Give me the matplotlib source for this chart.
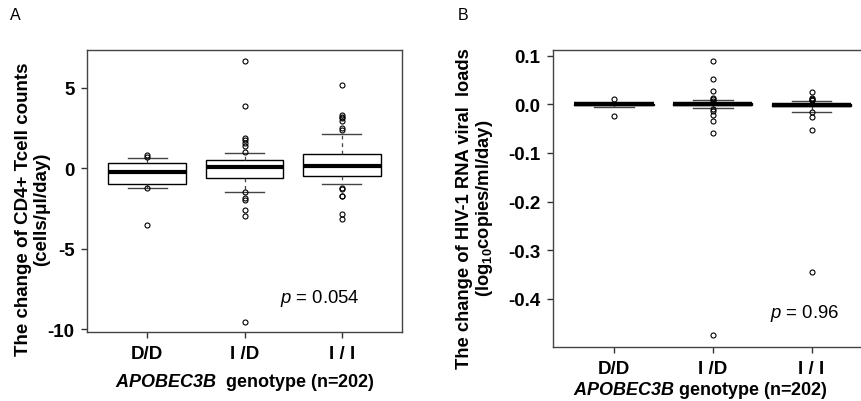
import numpy as np
import matplotlib
matplotlib.use("Agg")
import matplotlib.pyplot as plt

plt.rcParams['font.family'] = ['Liberation Sans', 'DejaVu Sans']
plt.rcParams['mathtext.fontset'] = 'custom'
plt.rcParams['mathtext.rm'] = 'Liberation Sans'
plt.rcParams['mathtext.it'] = 'Liberation Sans:italic'
plt.rcParams['mathtext.bf'] = 'Liberation Sans:bold'
plt.rcParams['mathtext.bfit'] = 'Liberation Sans:italic:bold'

genotypes = ["D/D", "I /D", "I / I"]

# panel A: change of CD4+ T cell counts
cd4_med = [-0.25, 0.06, 0.16]
cd4_q1 = [-0.97, -0.62, -0.50]
cd4_q3 = [0.31, 0.50, 0.91]
cd4_lo = [-1.20, -1.47, -0.98]
cd4_hi = [0.64, 0.95, 2.15]
cd4_out = [[0.85, 0.72, -1.2, -3.5],
           [6.68, 3.89, 1.9, 1.75, 1.55, 1.4, 1.03, -1.5, -1.85, -1.95, -2.6, -2.95, -9.53],
           [5.15, 3.3, 3.2, 3.1, 2.95, 2.5, 2.4, -1.2, -1.3, -1.7, -1.75, -2.84, -3.15]]

# panel B: change of HIV-1 RNA viral loads
vl_med = [0.0, 0.0, -0.001]
vl_q1 = [-0.001, -0.002, -0.003]
vl_q3 = [0.001, 0.002, 0.001]
vl_lo = [-0.006, -0.007, -0.015]
vl_hi = [0.001, 0.008, 0.006]
vl_out = [[0.010, -0.025],
          [0.088, 0.051, 0.027, 0.013, 0.010, 0.006, -0.010, -0.014, -0.022, -0.035, -0.058, -0.475],
          [0.025, 0.012, 0.010, 0.009, 0.008, -0.016, -0.026, -0.053, -0.345]]


def make_stats(med, q1, q3, lo, hi, out):
    st = []
    for i in range(len(med)):
        st.append(dict(med=med[i], q1=q1[i], q3=q3[i], whislo=lo[i], whishi=hi[i],
                       fliers=np.array(out[i])))
    return st


def draw(ax, stats, medlw):
    ax.bxp(stats, positions=[1, 2, 3], widths=0.8, showfliers=True, patch_artist=True,
           boxprops=dict(facecolor='white', edgecolor='black', linewidth=1.0),
           medianprops=dict(color='black', linewidth=medlw),
           whiskerprops=dict(color='#444444', linewidth=0.9, linestyle=(0, (3, 3))),
           capprops=dict(color='#444444', linewidth=1.0),
           flierprops=dict(marker='o', markersize=3.6, markerfacecolor='none',
                           markeredgecolor='black', markeredgewidth=0.8))
    ax.set_xlim(0.38, 3.62)
    ax.set_xticks([1, 2, 3])
    ax.set_xticklabels(genotypes, fontsize=13.5, fontweight='bold')
    ax.tick_params(length=4, width=1, color='#333333', pad=5)
    for s in ax.spines.values():
        s.set_color('#444444')
        s.set_linewidth(1.0)


fig = plt.figure(figsize=(8.61, 4.02), dpi=100)

axA = fig.add_axes([0.101, 0.1716, 0.366, 0.7015])
draw(axA, make_stats(cd4_med, cd4_q1, cd4_q3, cd4_lo, cd4_hi, cd4_out), 3.0)
axA.set_ylim(-10.17, 7.35)
axA.set_yticks([5, 0, -5, -10])
axA.set_yticklabels(['5', '0', '-5', '-10'], fontsize=13.5, fontweight='bold')
axA.set_ylabel('The change of CD4+ Tcell counts\n(cells/μl/day)', fontsize=13.5,
               fontweight='bold', linespacing=1.05)
axA.yaxis.set_label_coords(-0.117, 0.44)
axA.set_xlabel(r'$\mathbfit{APOBEC3B}$  genotype (n=202)', fontsize=13, fontweight='bold')
axA.xaxis.set_label_coords(0.5, -0.138)
axA.text(2.36, -8.0, r'$p$ = 0.054', fontsize=13.3, va='center', ha='left')

axB = fig.add_axes([0.642, 0.1336, 0.3717, 0.7396])
draw(axB, make_stats(vl_med, vl_q1, vl_q3, vl_lo, vl_hi, vl_out), 3.2)
axB.set_ylim(-0.4993, 0.1116)
axB.set_yticks([0.1, 0.0, -0.1, -0.2, -0.3, -0.4])
axB.set_yticklabels(['0.1', '0.0', '-0.1', '-0.2', '-0.3', '-0.4'], fontsize=13.5,
                    fontweight='bold')
axB.set_ylabel('The change of HIV-1 RNA viral  loads\n' + r'(log$_{\mathbf{10}}$copies/ml/day)',
               fontsize=13.2, fontweight='bold', linespacing=1.05)
axB.yaxis.set_label_coords(-0.18, 0.47)
axB.set_xlabel(r'$\mathbfit{APOBEC3B}$ genotype (n=202)', fontsize=13, fontweight='bold')
axB.xaxis.set_label_coords(0.463, -0.108)
axB.text(2.58, -0.427, r'$p$ = 0.96', fontsize=13.3, va='center', ha='left')

fig.text(10 / 861, 1 - 15 / 402, 'A', fontsize=11.5, va='center', ha='left')
fig.text(458 / 861, 1 - 15 / 402, 'B', fontsize=11.5, va='center', ha='left')

fig.savefig('out.png', dpi=100)
